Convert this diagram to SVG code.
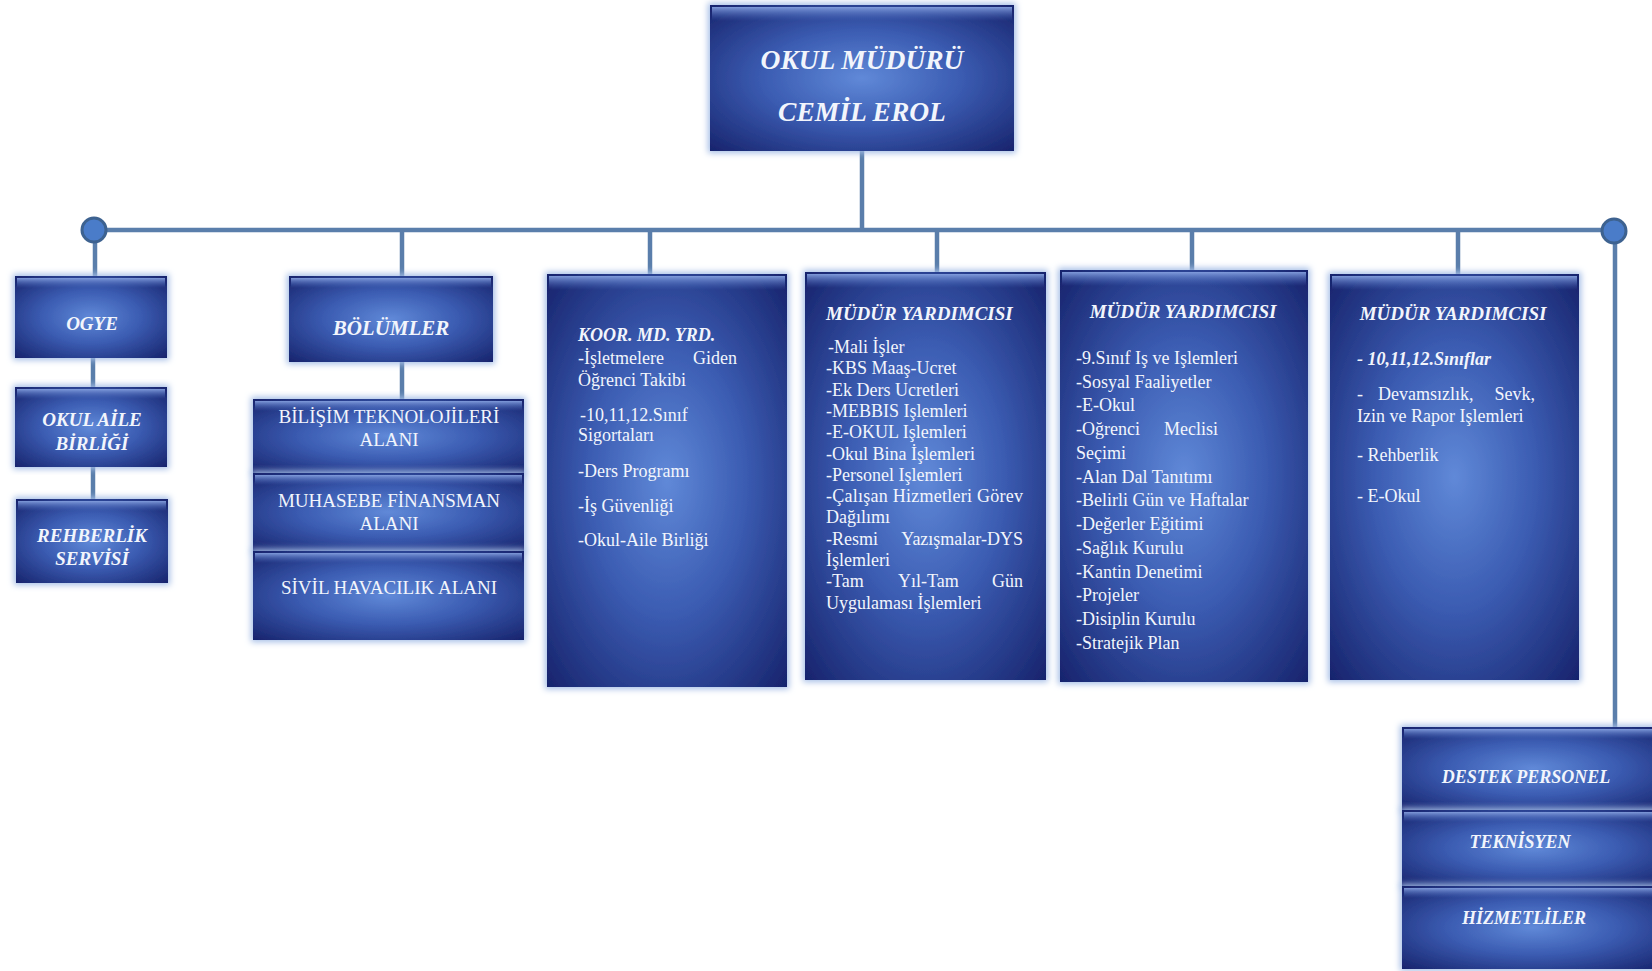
<svg xmlns="http://www.w3.org/2000/svg" width="1652" height="971" viewBox="0 0 1652 971">
<defs>
  <radialGradient id="bg" cx="50%" cy="50%" r="72%">
    <stop offset="0" stop-color="#6089d8"/>
    <stop offset="0.45" stop-color="#3b5cb2"/>
    <stop offset="1" stop-color="#16216a"/>
  </radialGradient>
  <linearGradient id="hl" x1="0" y1="0" x2="0" y2="1">
    <stop offset="0" stop-color="#8aa6e4" stop-opacity="0.9"/>
    <stop offset="1" stop-color="#4a6cc0" stop-opacity="0"/>
  </linearGradient>
  <filter id="glow" x="-10%" y="-10%" width="120%" height="120%">
    <feMorphology operator="dilate" radius="2" in="SourceAlpha" result="d"/>
    <feGaussianBlur in="d" stdDeviation="3" result="b"/>
    <feFlood flood-color="#a4bde6"/>
    <feComposite in2="b" operator="in" result="s"/>
    <feMerge><feMergeNode in="s"/><feMergeNode in="SourceGraphic"/></feMerge>
  </filter>
</defs>
<style>
  .box { fill: url(#bg); filter: url(#glow); }
  .hl { fill: url(#hl); }
  .ln { stroke: #5a7eab; stroke-width: 4.5; fill: none; }
  .dot { fill: #4a7cc9; stroke: #3d6290; stroke-width: 3; }
  text { fill: #f2f5fc; font-family: "Liberation Serif", "Times New Roman", serif; }
  .bi { font-weight: bold; font-style: italic; }
  .t18 { font-size: 18px; }
  .t19 { font-size: 19px; }
  .mid { text-anchor: middle; }
  .end { text-anchor: end; }
</style>
<rect width="1652" height="971" fill="#ffffff"/>

<g id="connectors">
  <line class="ln" x1="93" y1="230" x2="1614" y2="230"/>
  <line class="ln" x1="862" y1="151" x2="862" y2="230"/>
  <line class="ln" x1="95" y1="230" x2="95" y2="276"/>
  <line class="ln" x1="93" y1="358" x2="93" y2="387"/>
  <line class="ln" x1="93" y1="467" x2="93" y2="499"/>
  <line class="ln" x1="402" y1="230" x2="402" y2="276"/>
  <line class="ln" x1="402" y1="362" x2="402" y2="399"/>
  <line class="ln" x1="650" y1="230" x2="650" y2="274"/>
  <line class="ln" x1="937" y1="230" x2="937" y2="272"/>
  <line class="ln" x1="1192" y1="230" x2="1192" y2="270"/>
  <line class="ln" x1="1458" y1="230" x2="1458" y2="274"/>
  <line class="ln" x1="1615" y1="230" x2="1615" y2="727"/>
  <circle class="dot" cx="94" cy="230" r="12"/>
  <circle class="dot" cx="1614" cy="231" r="12"/>
</g>

<g id="mudur">
  <rect class="box" x="710" y="5" width="304" height="146"/>
  <rect class="hl" x="712" y="7" width="300" height="14"/>
  <text class="bi mid" x="862" y="69" font-size="27.5">OKUL MÜDÜRÜ</text>
  <text class="bi mid" x="862" y="121" font-size="27.5">CEMİL EROL</text>
</g>

<g id="ogye">
  <rect class="box" x="15" y="276" width="152" height="82"/>
  <rect class="hl" x="17" y="278" width="148" height="10"/>
  <text class="bi mid t19" x="92" y="330">OGYE</text>
</g>

<g id="okul-aile">
  <rect class="box" x="15" y="387" width="152" height="80"/>
  <rect class="hl" x="17" y="389" width="148" height="10"/>
  <text class="bi mid t19" x="92" y="426">OKUL AİLE</text>
  <text class="bi mid t19" x="92" y="450">BİRLİĞİ</text>
</g>

<g id="rehberlik">
  <rect class="box" x="16" y="499" width="152" height="84"/>
  <rect class="hl" x="18" y="501" width="148" height="10"/>
  <text class="bi mid t19" x="92" y="542">REHBERLİK</text>
  <text class="bi mid t19" x="92" y="565">SERVİSİ</text>
</g>

<g id="bolumler">
  <rect class="box" x="289" y="276" width="204" height="86"/>
  <rect class="hl" x="291" y="278" width="200" height="10"/>
  <text class="bi mid" x="391" y="335" font-size="21">BÖLÜMLER</text>
</g>

<g id="bilisim">
  <rect class="box" x="253" y="399" width="271" height="74"/>
  <rect class="hl" x="255" y="401" width="267" height="10"/>
  <text class="mid t19" x="389" y="423">BİLİŞİM TEKNOLOJİLERİ</text>
  <text class="mid t19" x="389" y="446">ALANI</text>
</g>

<g id="muhasebe">
  <rect class="box" x="253" y="473" width="271" height="78"/>
  <rect class="hl" x="255" y="475" width="267" height="10"/>
  <text class="mid t19" x="389" y="507">MUHASEBE FİNANSMAN</text>
  <text class="mid t19" x="389" y="530">ALANI</text>
</g>

<g id="sivil">
  <rect class="box" x="253" y="551" width="271" height="89"/>
  <rect class="hl" x="255" y="553" width="267" height="10"/>
  <text class="mid t19" x="389" y="594">SİVİL HAVACILIK ALANI</text>
</g>

<g id="koor">
  <rect class="box" x="547" y="274" width="240" height="413"/>
  <rect class="hl" x="549" y="276" width="236" height="14"/>
  <text class="bi t18" x="578" y="341">KOOR. MD. YRD.</text>
  <text class="t18" y="364"><tspan x="578">-İşletmelere</tspan><tspan x="737" text-anchor="end">Giden</tspan></text>
  <text class="t18" x="578" y="386">Öğrenci Takibi</text>
  <text class="t18" x="580" y="421"> -10,11,12.Sınıf</text>
  <text class="t18" x="578" y="441">Sigortaları</text>
  <text class="t18" x="578" y="477">-Ders Programı</text>
  <text class="t18" x="578" y="512">-İş Güvenliği</text>
  <text class="t18" x="578" y="546">-Okul-Aile Birliği</text>
</g>

<g id="mudur-yrd-1">
  <rect class="box" x="805" y="272" width="241" height="408"/>
  <rect class="hl" x="807" y="274" width="237" height="14"/>
  <text class="bi t19" x="826" y="320">MÜDÜR YARDIMCISI</text>
  <text class="t18" x="828" y="353">-Mali İşler</text>
  <text class="t18" x="826" y="374">-KBS Maaş-Ucret</text>
  <text class="t18" x="826" y="396">-Ek Ders Ucretleri</text>
  <text class="t18" x="826" y="417">-MEBBIS Işlemleri</text>
  <text class="t18" x="826" y="438">-E-OKUL Işlemleri</text>
  <text class="t18" x="826" y="460">-Okul Bina İşlemleri</text>
  <text class="t18" x="826" y="481">-Personel Işlemleri</text>
  <text class="t18" x="826" y="502" textLength="197" lengthAdjust="spacing">-Çalışan Hizmetleri Görev</text>
  <text class="t18" x="826" y="523">Dağılımı</text>
  <text class="t18" y="545"><tspan x="826">-Resmi</tspan><tspan x="1023" text-anchor="end">Yazışmalar-DYS</tspan></text>
  <text class="t18" x="826" y="566">İşlemleri</text>
  <text class="t18" y="587"><tspan x="826">-Tam</tspan><tspan x="898">Yıl-Tam</tspan><tspan x="1023" text-anchor="end">Gün</tspan></text>
  <text class="t18" x="826" y="609">Uygulaması İşlemleri</text>
</g>

<g id="mudur-yrd-2">
  <rect class="box" x="1060" y="270" width="248" height="412"/>
  <rect class="hl" x="1062" y="272" width="244" height="14"/>
  <text class="bi mid t19" x="1183" y="318">MÜDÜR YARDIMCISI</text>
  <text class="t18" x="1076" y="364">-9.Sınıf Iş ve Işlemleri</text>
  <text class="t18" x="1076" y="388">-Sosyal Faaliyetler</text>
  <text class="t18" x="1076" y="411">-E-Okul</text>
  <text class="t18" y="435"><tspan x="1076">-Oğrenci</tspan><tspan x="1218" text-anchor="end">Meclisi</tspan></text>
  <text class="t18" x="1076" y="459">Seçimi</text>
  <text class="t18" x="1076" y="483">-Alan Dal Tanıtımı</text>
  <text class="t18" x="1076" y="506">-Belirli Gün ve Haftalar</text>
  <text class="t18" x="1076" y="530">-Değerler Eğitimi</text>
  <text class="t18" x="1076" y="554">-Sağlık Kurulu</text>
  <text class="t18" x="1076" y="578">-Kantin Denetimi</text>
  <text class="t18" x="1076" y="601">-Projeler</text>
  <text class="t18" x="1076" y="625">-Disiplin Kurulu</text>
  <text class="t18" x="1076" y="649">-Stratejik Plan</text>
</g>

<g id="mudur-yrd-3">
  <rect class="box" x="1330" y="274" width="249" height="406"/>
  <rect class="hl" x="1332" y="276" width="245" height="14"/>
  <text class="bi mid t19" x="1453" y="320">MÜDÜR YARDIMCISI</text>
  <text class="bi t18" x="1357" y="365">- 10,11,12.Sınıflar</text>
  <text class="t18" y="400"><tspan x="1357">-</tspan><tspan x="1378">Devamsızlık,</tspan><tspan x="1535" text-anchor="end">Sevk,</tspan></text>
  <text class="t18" x="1357" y="422">Izin ve Rapor Işlemleri</text>
  <text class="t18" x="1357" y="461">- Rehberlik</text>
  <text class="t18" x="1357" y="502">- E-Okul</text>
</g>

<g id="destek-personel">
  <rect class="box" x="1402" y="727" width="262" height="83"/>
  <rect class="hl" x="1404" y="729" width="258" height="10"/>
  <text class="bi mid t18" x="1526" y="783">DESTEK PERSONEL</text>
</g>
<g id="teknisyen">
  <rect class="box" x="1402" y="810" width="262" height="76"/>
  <rect class="hl" x="1404" y="812" width="258" height="10"/>
  <text class="bi mid t18" x="1520" y="848">TEKNİSYEN</text>
</g>
<g id="hizmetliler">
  <rect class="box" x="1402" y="886" width="262" height="83"/>
  <rect class="hl" x="1404" y="888" width="258" height="10"/>
  <text class="bi mid t18" x="1524" y="924">HİZMETLİLER</text>
</g>
</svg>
